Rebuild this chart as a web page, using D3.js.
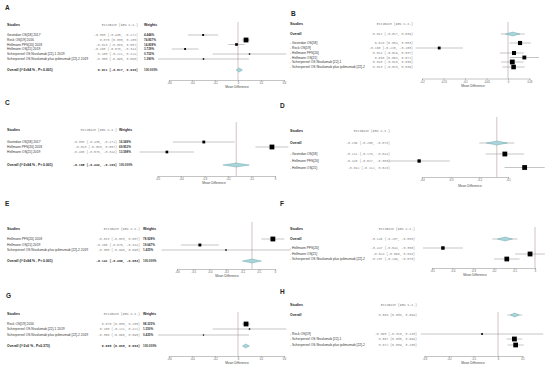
<!DOCTYPE html>
<html>
<head>
<meta charset="utf-8">
<script src="https://cdn.jsdelivr.net/npm/d3@7"></script>
<style>
body { margin: 0; background: #fff; }
svg { display: block; }
text { white-space: pre; }
</style>
</head>
<body>
<script>
// ---- panel A ----
var studiesA = ["Govindan OS[18] 2017", "Reck OS[19] 2016", "Hellmann PFS[20] 2018", "Hellmann OS[21] 2019",
  "Scherpereel OS Nivolumab [22]-1 2019", "Scherpereel OS Nivolumab plus ipilimumab [22]-2 2019"];
var estA = [-0.303, 0.070, -0.013, -0.460, 0.100, -0.300];
var lowA = [-0.435, 0.035, -0.083, -0.576, -0.221, -0.695];
var highA = [-0.172, 0.105, 0.057, -0.344, 0.421, 0.095];
var weightA = [4.444, 74.857, 14.828, 3.729, 0.752, 1.390];
var overallA = [0.011, -0.017, 0.039];
var ticksA = [-0.6, -0.4, -0.2, 0, 0.2, 0.4];

// ---- panel B ----
var studiesB = ["- Govindan OS[18]", "- Reck OS[19]", "- Hellmann PFS[20]", "- Hellmann OS[21]",
  "- Scherpereel OS Nivolumab [22]-1", "- Scherpereel OS Nivolumab plus ipilimumab [22]-2"];
var estB = [0.028, -0.160, 0.014, 0.038, 0.010, 0.013];
var lowB = [0.004, -0.215, -0.019, 0.004, -0.016, -0.013];
var highB = [0.053, -0.105, 0.037, 0.072, 0.036, 0.039];
var weightB = [17, 6, 16, 14, 25, 22];
var overallB = [0.011, -0.017, 0.039];
var ticksB = [-0.2, -0.15, -0.1, -0.05, 0, 0.05];

// ---- panel C ----
var studiesC = ["Govindan OS[18] 2017", "Hellmann PFS[20] 2018", "Hellmann OS[21] 2019"];
var estC = [-0.303, -0.013, -0.460];
var lowC = [-0.435, -0.083, -0.576];
var highC = [-0.172, 0.057, -0.344];
var weightC = [16.549, 69.853, 13.598];
var overallC = [-0.165, -0.222, -0.109];
var ticksC = [-0.5, -0.4, -0.3, -0.2, -0.1, 0];

// ---- panel D ----
var studiesD = ["- Govindan OS[18]", "- Hellmann PFS[20]", "- Hellmann OS[21]"];
var estD = [-0.111, -0.410, -0.042];
var lowD = [-0.178, -0.517, -0.112];
var highD = [-0.044, -0.303, 0.028];
var weightD = [42, 16, 42];
var overallD = [-0.139, -0.200, -0.078];
var ticksD = [-0.4, -0.3, -0.2, -0.1];

// ---- panel E ----
var studiesE = ["Hellmann PFS[20] 2018", "Hellmann OS[21] 2019", "Scherpereel OS Nivolumab plus ipilimumab [22]-2 2019"];
var estE = [-0.013, -0.460, -0.300];
var lowE = [-0.083, -0.576, -0.695];
var highE = [0.057, -0.344, 0.095];
var weightE = [78.928, 19.647, 1.425];
var overallE = [-0.141, -0.200, -0.083];
var ticksE = [-0.6, -0.5, -0.4, -0.3, -0.2, -0.1, 0];

// ---- panel F ----
var studiesF = ["- Hellmann PFS[20]", "- Hellmann OS[21]", "- Scherpereel OS Nivolumab plus ipilimumab [22]-2"];
var estF = [-0.447, -0.024, -0.137];
var lowF = [-0.544, -0.096, -0.199];
var highF = [-0.350, 0.048, -0.075];
var weightF = [18, 42, 40];
var overallF = [-0.146, -0.207, -0.085];
var ticksF = [-0.5, -0.4, -0.3, -0.2, -0.1, 0];

// ---- panel G ----
var studiesG = ["Reck OS[19] 2016", "Scherpereel OS Nivolumab [22]-1 2019", "Scherpereel OS Nivolumab plus ipilimumab [22]-2 2019"];
var estG = [0.070, 0.100, -0.300];
var lowG = [0.035, -0.221, -0.695];
var highG = [0.105, 0.421, 0.095];
var weightG = [98.325, 1.250, 0.425];
var overallG = [0.068, 0.038, 0.099];
var ticksG = [-0.6, -0.4, -0.2, 0, 0.2, 0.4];

// ---- panel H ----
var studiesH = ["- Reck OS[19]", "- Scherpereel OS Nivolumab [22]-1", "- Scherpereel OS Nivolumab plus ipilimumab [22]-2"];
var estH = [-0.065, 0.067, 0.072];
var lowH = [-0.315, 0.035, 0.039];
var highH = [0.185, 0.099, 0.105];
var weightH = [2, 50, 48];
var overallH = [0.068, 0.038, 0.099];
var ticksH = [-0.3, -0.2, -0.1, 0, 0.1];

var labelI2 = "Overall (I^2=94 % , P< 0.001)";
var labelG = "Overall (I^2=0 % , P=0.373)";

// "left" panels have weights and overall at the bottom, "right" panels have overall on top
var panels = [
  {id: "A", kind: "left", studies: studiesA, est: estA, low: lowA, high: highA, weight: weightA, overall: overallA, ticks: ticksA, overallLabel: labelI2,
   letter: [5, 7], headY: 25, nameX: 7, estEnd: 138, wX: 144, rowY: [35, 40, 44.5, 49, 54, 59], overallY: 70,
   range: [169, 284], axisY: 80, refVal: 0, refTop: 22, mdX: 237, mdY: 86.5},
  {id: "B", kind: "right", studies: studiesB, est: estB, low: lowB, high: highB, weight: weightB, overall: overallB, ticks: ticksB, overallLabel: "Overall",
   letter: [291, 13], headY: 24, nameX: 290, estEnd: 413, rowY: [43, 48, 53, 57.5, 62, 67], overallY: 34,
   range: [422, 529.5], axisY: 78.5, refVal: 0, refTop: 22, mdX: 473, mdY: 85.5},
  {id: "C", kind: "left", studies: studiesC, est: estC, low: lowC, high: highC, weight: weightC, overall: overallC, ticks: ticksC, overallLabel: labelI2,
   letter: [5, 102], headY: 130, nameX: 7, estEnd: 117, wX: 119, rowY: [142, 147, 152], overallY: 165,
   range: [157.5, 275], axisY: 176, refVal: -0.165, refTop: 122, mdX: 214, mdY: 183},
  {id: "D", kind: "right", studies: studiesD, est: estD, low: lowD, high: highD, weight: weightD, overall: overallD, ticks: ticksD, overallLabel: "Overall",
   letter: [280, 105], headY: 131, nameX: 290, estEnd: 390, rowY: [154, 161, 167.5], overallY: 143,
   range: [422, 508], axisY: 177, refVal: -0.139, refTop: 117, mdX: 470, mdY: 186},
  {id: "E", kind: "left", studies: studiesE, est: estE, low: lowE, high: highE, weight: weightE, overall: overallE, ticks: ticksE, overallLabel: labelI2,
   letter: [5, 203], headY: 229, nameX: 7, estEnd: 140, wX: 143, rowY: [239, 245, 250], overallY: 261,
   range: [177, 275], axisY: 269, refVal: -0.141, refTop: 222, mdX: 227, mdY: 276},
  {id: "F", kind: "right", studies: studiesF, est: estF, low: lowF, high: highF, weight: weightF, overall: overallF, ticks: ticksF, overallLabel: "Overall",
   letter: [280, 203], headY: 229, nameX: 290, estEnd: 415, rowY: [248, 254, 259], overallY: 239,
   range: [432, 535], axisY: 268, refVal: 0, refTop: 227, mdX: 475, mdY: 275},
  {id: "G", kind: "left", studies: studiesG, est: estG, low: lowG, high: highG, weight: weightG, overall: overallG, ticks: ticksG, overallLabel: labelG,
   letter: [6, 295], headY: 314, nameX: 7, estEnd: 140, wX: 143, rowY: [324, 329, 335], overallY: 346,
   range: [169, 284], axisY: 356, refVal: 0, refTop: 312, mdX: 237, mdY: 362.5},
  {id: "H", kind: "right", studies: studiesH, est: estH, low: lowH, high: highH, weight: weightH, overall: overallH, ticks: ticksH, overallLabel: "Overall",
   letter: [280, 291], headY: 305, nameX: 290, estEnd: 417, rowY: [334, 339, 345], overallY: 315,
   range: [424.5, 522.5], axisY: 356, refVal: 0, refTop: 312, mdX: 473, mdY: 363}
];

var sans = "Liberation Sans, Arial, sans-serif";
var mono = "Liberation Mono, Courier New, monospace";

var svg = d3.select("body").append("svg")
  .attr("width", 550)
  .attr("height", 367);

function f3(v) { return v.toFixed(3); }
function ciText(e, l, h) { return f3(e) + " (" + f3(l) + ", " + f3(h) + ")"; }

function drawPanel(p) {
  var g = svg.append("g");
  var x = d3.scaleLinear()
    .domain([p.ticks[0], p.ticks[p.ticks.length - 1]])
    .range(p.range);

  g.append("text")
    .attr("x", p.letter[0]).attr("y", p.letter[1])
    .attr("dominant-baseline", "central")
    .style("font", "bold 6.5px " + sans).style("fill", "#222")
    .text(p.id);

  // header line
  g.append("text")
    .attr("x", p.nameX).attr("y", p.headY).attr("dominant-baseline", "central")
    .style("font", "bold 3.6px " + sans).style("fill", "#222")
    .text("Studies");
  g.append("text")
    .attr("x", p.estEnd).attr("y", p.headY).attr("dominant-baseline", "central")
    .attr("text-anchor", "end")
    .style("font", "3.2px " + mono).style("fill", "#777")
    .text("Estimate (95% C.I.)");
  if (p.kind == "left") {
    g.append("text")
      .attr("x", p.wX).attr("y", p.headY).attr("dominant-baseline", "central")
      .style("font", "bold 3.4px " + sans).style("fill", "#222")
      .text("Weights");
  }

  var rows = p.studies.map(function(s, i) {
    return {name: s, est: p.est[i], lo: p.low[i], hi: p.high[i], w: p.weight[i], y: p.rowY[i]};
  });
  var wmax = d3.max(p.weight);
  var side = function(d) { return 1 + 3.8 * Math.sqrt(d.w / wmax); };

  g.selectAll(".nm").data(rows).enter().append("text")
    .attr("x", p.nameX).attr("y", function(d) { return d.y; })
    .attr("dominant-baseline", "central")
    .style("font", "3.3px " + sans).style("fill", "#333")
    .text(function(d) { return d.name; });

  g.selectAll(".es").data(rows).enter().append("text")
    .attr("x", p.estEnd).attr("y", function(d) { return d.y; })
    .attr("dominant-baseline", "central").attr("text-anchor", "end")
    .style("font", "3.2px " + mono).style("fill", "#888")
    .text(function(d) { return ciText(d.est, d.lo, d.hi); });

  if (p.kind == "left") {
    g.selectAll(".wt").data(rows).enter().append("text")
      .attr("x", p.wX).attr("y", function(d) { return d.y; })
      .attr("dominant-baseline", "central")
      .style("font", "bold 3px " + sans).style("fill", "#333")
      .text(function(d) { return f3(d.w) + "%"; });
  }

  // reference line
  g.append("line")
    .attr("x1", x(p.refVal)).attr("x2", x(p.refVal))
    .attr("y1", p.refTop).attr("y2", p.axisY)
    .style("stroke", "#b49a9a").style("stroke-width", 0.6);

  // confidence intervals and squares
  g.selectAll(".ci").data(rows).enter().append("line")
    .attr("x1", function(d) { return x(d.lo); })
    .attr("x2", function(d) { return x(d.hi); })
    .attr("y1", function(d) { return d.y; })
    .attr("y2", function(d) { return d.y; })
    .style("stroke", "#8a8a8a").style("stroke-width", 0.5);

  g.selectAll(".sq").data(rows).enter().append("rect")
    .attr("x", function(d) { return x(d.est) - side(d) / 2; })
    .attr("y", function(d) { return d.y - side(d) / 2; })
    .attr("width", side).attr("height", side)
    .style("fill", "#000");

  // overall row
  var o = p.overall, oy = p.overallY;
  g.append("text")
    .attr("x", p.nameX).attr("y", oy).attr("dominant-baseline", "central")
    .style("font", "bold 3.4px " + sans).style("fill", "#222")
    .text(p.overallLabel);
  g.append("text")
    .attr("x", p.estEnd).attr("y", oy).attr("dominant-baseline", "central")
    .attr("text-anchor", "end")
    .style("font", (p.kind == "left" ? "bold " : "") + "3.2px " + mono)
    .style("fill", p.kind == "left" ? "#333" : "#888")
    .text(ciText(o[0], o[1], o[2]));
  if (p.kind == "left") {
    g.append("text")
      .attr("x", p.wX).attr("y", oy).attr("dominant-baseline", "central")
      .style("font", "bold 3px " + sans).style("fill", "#333")
      .text("100.000%");
  }
  var half = 1;
  if (p.kind == "right") {
    g.append("line")
      .attr("x1", x(o[1])).attr("x2", x(o[2]))
      .attr("y1", oy).attr("y2", oy)
      .style("stroke", "#8a8a8a").style("stroke-width", 0.5);
    half = 0.6;
  }
  var dl = x(o[0]) - (x(o[0]) - x(o[1])) * half;
  var dr = x(o[0]) + (x(o[2]) - x(o[0])) * half;
  g.append("path")
    .attr("d", "M" + dl + "," + oy + "L" + x(o[0]) + "," + (oy - 2) + "L" + dr + "," + oy + "L" + x(o[0]) + "," + (oy + 2) + "Z")
    .style("fill", "#a9d4d8").style("stroke", "#5e9ea6").style("stroke-width", 0.4);

  // axis
  var axis = g.append("g")
    .attr("transform", "translate(0," + p.axisY + ")")
    .call(d3.axisBottom(x).tickValues(p.ticks).tickSize(1.5).tickPadding(0.8)
      .tickFormat(function(d) { return String(d); }));
  axis.select(".domain").style("stroke", "#888").style("stroke-width", 0.5);
  axis.selectAll(".tick line").style("stroke", "#888").style("stroke-width", 0.5);
  axis.selectAll(".tick text").style("font", "2.6px " + sans).style("fill", "#555");

  g.append("text")
    .attr("x", p.mdX).attr("y", p.mdY).attr("dominant-baseline", "central")
    .attr("text-anchor", "middle")
    .style("font", "3.2px " + sans).style("fill", "#444")
    .text("Mean Difference");
}

panels.forEach(drawPanel);
</script>
</body>
</html>
